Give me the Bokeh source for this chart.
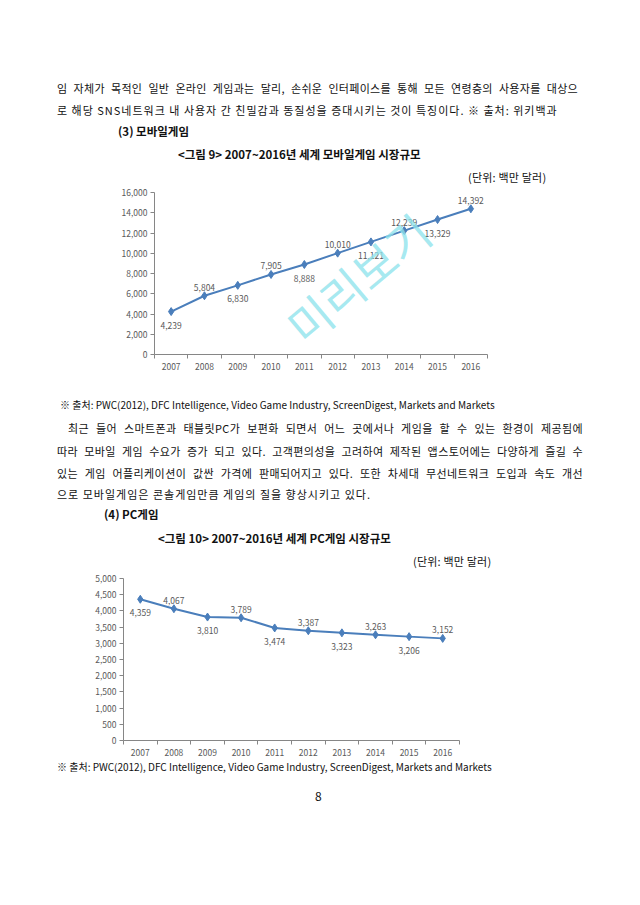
import math
from bokeh.plotting import figure
from bokeh.models import Range1d, FixedTicker, NumeralTickFormatter, ColumnDataSource, Label, Div
from bokeh.layouts import column
from bokeh.embed import file_html
from bokeh.resources import INLINE
from bokeh.core.properties import value

# ---------------- data ----------------
years = [2007, 2008, 2009, 2010, 2011, 2012, 2013, 2014, 2015, 2016]
mobile_market = [4239, 5804, 6830, 7905, 8888, 10010, 11121, 12239, 13329, 14392]
pc_market = [4359, 4067, 3810, 3789, 3474, 3387, 3323, 3263, 3206, 3152]
mobile_yticks = [0, 2000, 4000, 6000, 8000, 10000, 12000, 14000, 16000]
pc_yticks = [0, 500, 1000, 1500, 2000, 2500, 3000, 3500, 4000, 4500, 5000]

top_line1 = "임 자체가 목적인 일반 온라인 게임과는 달리, 손쉬운 인터페이스를 통해 모든 연령층의 사용자를 대상으"
top_line2 = "로 해당 SNS네트워크 내 사용자 간 친밀감과 동질성을 증대시키는 것이 특징이다. ※ 출처: 위키백과"
head3 = "(3) 모바일게임"
title9 = "&lt;그림 9&gt; 2007~2016년 세계 모바일게임 시장규모"
unit_txt = "(단위: 백만 달러)"
source_txt = "※ 출처: PWC(2012), DFC Intelligence, Video Game Industry, ScreenDigest, Markets and Markets"
body = [
    "최근 들어 스마트폰과 태블릿PC가 보편화 되면서 어느 곳에서나 게임을 할 수 있는 환경이 제공됨에",
    "따라 모바일 게임 수요가 증가 되고 있다. 고객편의성을 고려하여 제작된 앱스토어에는 다양하게 즐길 수",
    "있는 게임 어플리케이션이 값싼 가격에 판매되어지고 있다. 또한 차세대 무선네트워크 도입과 속도 개선",
    "으로 모바일게임은 콘솔게임만큼 게임의 질을 향상시키고 있다.",
]
head4 = "(4) PC게임"
title10 = "&lt;그림 10&gt; 2007~2016년 세계 PC게임 시장규모"
page_no = "8"
watermark = "미리보기"

BLUE = "#4A7EBB"
AXIS = "#868686"
TICKTXT = "#595959"
FONT = "Noto Sans CJK KR"
W = 640


def make_chart(vals, yticks, height, bl, br, bt, bb, wm=False):
    p = figure(width=W, height=height,
               x_range=Range1d(years[0] - 0.5, years[-1] + 0.5),
               y_range=Range1d(yticks[0], yticks[-1]),
               output_backend="svg", toolbar_location=None,
               min_border_left=bl, min_border_right=br,
               min_border_top=bt, min_border_bottom=bb,
               outline_line_color=None, background_fill_color="white",
               border_fill_color="white", frame_align=False)
    p.grid.visible = False
    labs = [f"{v:,}" for v in vals]
    src = ColumnDataSource(dict(x=years, y=vals))
    p.line("x", "y", source=src, line_color=BLUE, line_width=2)
    p.scatter("x", "y", source=src, marker="diamond", size=8,
              fill_color=BLUE, line_color=BLUE)
    above = ColumnDataSource(dict(x=[x for i, x in enumerate(years) if i % 2 == 1],
                                  y=[v for i, v in enumerate(vals) if i % 2 == 1],
                                  t=[l for i, l in enumerate(labs) if i % 2 == 1]))
    below = ColumnDataSource(dict(x=[x for i, x in enumerate(years) if i % 2 == 0],
                                  y=[v for i, v in enumerate(vals) if i % 2 == 0],
                                  t=[l for i, l in enumerate(labs) if i % 2 == 0]))
    common = dict(text_align="center", text_font=value(FONT),
                  text_font_size=value("8.5px"), text_color=TICKTXT)
    p.text("x", "y", text="t", source=above, text_baseline="bottom", y_offset=-5, **common)
    p.text("x", "y", text="t", source=below, text_baseline="top", y_offset=10, **common)

    xa = p.xaxis[0]
    xa.ticker = FixedTicker(ticks=years, minor_ticks=[y - 0.5 for y in years] + [years[-1] + 0.5])
    xa.major_tick_line_color = None
    xa.major_tick_out = 0
    xa.major_tick_in = 0
    xa.minor_tick_out = 4
    xa.minor_tick_in = 0
    xa.minor_tick_line_color = AXIS
    xa.major_label_standoff = 4

    ya = p.yaxis[0]
    ya.ticker = FixedTicker(ticks=yticks)
    ya.formatter = NumeralTickFormatter(format="0,0")
    ya.major_tick_out = 4
    ya.major_tick_in = 0
    ya.minor_tick_line_color = None
    ya.major_tick_line_color = AXIS
    ya.major_label_standoff = 3
    for ax in (xa, ya):
        ax.axis_line_color = AXIS
        ax.major_label_text_color = TICKTXT
        ax.major_label_text_font = FONT
        ax.major_label_text_font_size = "8.5px"

    if wm:
        p.add_layout(Label(x=2012.6, y=7600, text=watermark, angle=math.radians(40),
                           text_align="center", text_baseline="middle",
                           text_font=FONT, text_font_size="46px",
                           text_color="#8FE3EC", text_alpha=0.8))
    return p


def text_block(items, height):
    parts = []
    for it in items:
        left, top, txt, size, bold, ls = it[:6]
        just = it[6] if len(it) > 6 else None
        style = (f"position:absolute;left:{left}px;top:{top}px;font-size:{size}px;"
                 f"line-height:16px;letter-spacing:{ls}px;"
                 f"font-weight:{'bold' if bold else 'normal'};")
        if just:
            style += f"width:{just}px;text-align:justify;text-align-last:justify;"
        else:
            style += "white-space:nowrap;"
        parts.append(f'<div style="{style}">{txt}</div>')
    html = (f'<div style="position:relative;width:{W}px;height:{height}px;'
            f"font-family:'{FONT}';color:#111;\">" + "".join(parts) + "</div>")
    return Div(text=html, width=W, height=height, margin=0)


divA = text_block([
    (57, 80, top_line1, 11, False, 0.3, 521),
    (57, 102, top_line2, 11, False, 1.0),
    (118, 123, head3, 11.5, True, 0),
    (178, 146, title9, 11.5, True, 0),
    (468, 169, unit_txt, 11, False, 0.2),
], 184)

p1 = make_chart(mobile_market, mobile_yticks, 190, 154, 153, 8, 20, wm=True)

divB = text_block([
    (60, 23, source_txt, 10, False, 0),
    (68, 46, body[0], 11, False, 0.4, 515),
    (57, 69, body[1], 11, False, 0.4, 526),
    (57, 91, body[2], 11, False, 0.4, 526),
    (57, 112, body[3], 11, False, 1.0),
    (104, 132, head4, 11.5, True, 0),
    (158, 156, title10, 11.5, True, 0),
    (413, 179, unit_txt, 11, False, 0.2),
], 196)

p2 = make_chart(pc_market, pc_yticks, 188, 123, 181, 8, 18)

divC = text_block([
    (57, 1, source_txt, 10, False, 0),
    (315, 30, page_no, 12, False, 0),
], 140)

layout = column(divA, p1, divB, p2, divC, spacing=0)
open("out.html", "w").write(file_html(layout, INLINE))
